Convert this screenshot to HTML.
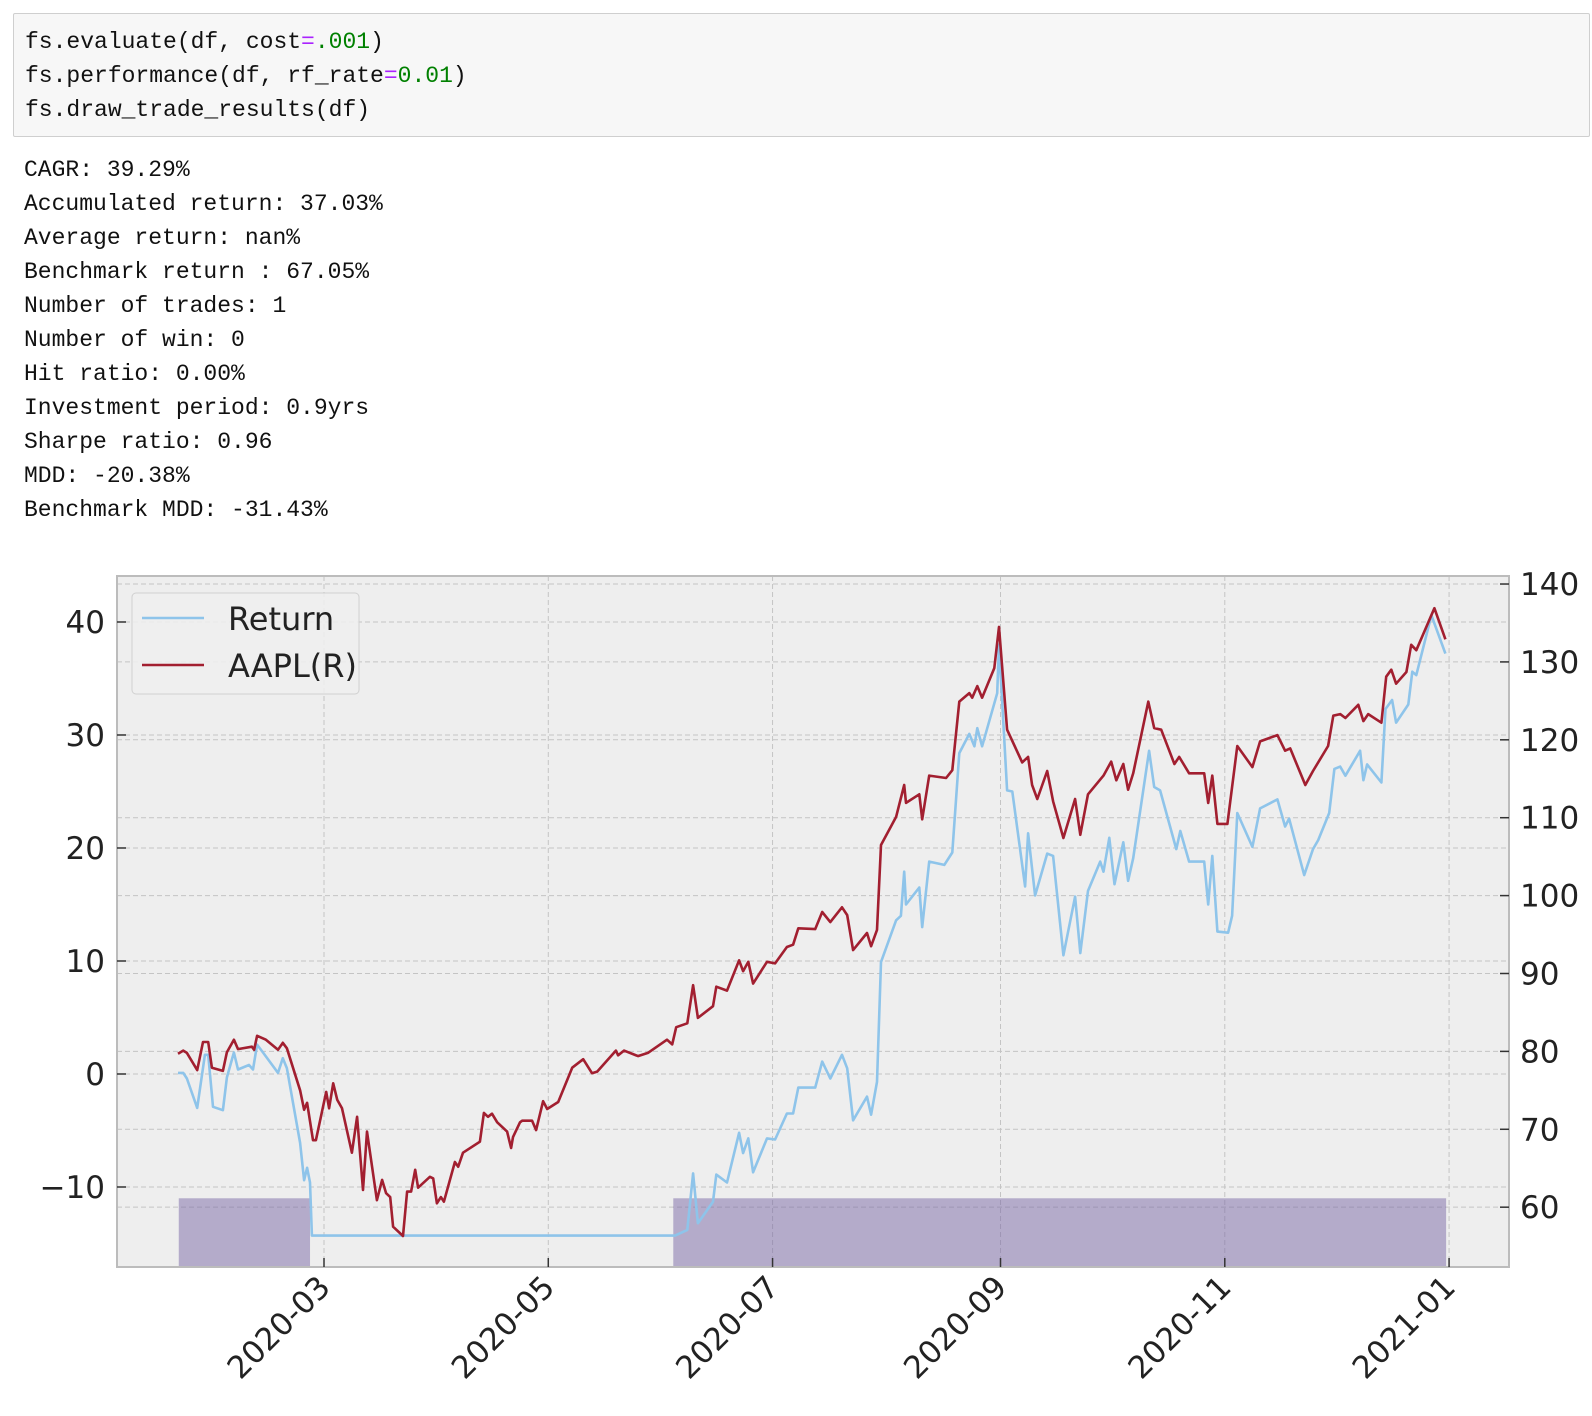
<!DOCTYPE html>
<html><head><meta charset="utf-8"><style>
html,body{margin:0;padding:0;background:#fff;width:1592px;height:1416px;overflow:hidden}
.code{position:absolute;left:13px;top:13px;width:1577px;height:124px;background:#f7f7f7;border:1px solid #cfcfcf;border-radius:2px;box-sizing:border-box}
.mono{font-family:"Liberation Mono","DejaVu Sans Mono",monospace;font-size:23px;color:#111;white-space:pre}
.ln{position:absolute;left:11px;line-height:34px}
.eq{color:#aa22ff}.num{color:#008000}
.out{position:absolute;left:24px;top:153px;line-height:34px}
svg{position:absolute;left:0;top:0}
</style></head><body>
<div class="code">
<div class="ln mono" style="top:11px">fs.evaluate(df, cost<span class="eq">=</span><span class="num">.001</span>)</div>
<div class="ln mono" style="top:45px">fs.performance(df, rf_rate<span class="eq">=</span><span class="num">0.01</span>)</div>
<div class="ln mono" style="top:79px">fs.draw_trade_results(df)</div>
</div>
<div class="out mono">CAGR: 39.29%
Accumulated return: 37.03%
Average return: nan%
Benchmark return : 67.05%
Number of trades: 1
Number of win: 0
Hit ratio: 0.00%
Investment period: 0.9yrs
Sharpe ratio: 0.96
MDD: -20.38%
Benchmark MDD: -31.43%</div>
<svg id="chart" width="1592" height="1416"></svg>
<script>
// days since 2020-01-01
const aaplDays=[20.3,21.7,22.7,25.5,27.1,28.5,29.5,32.5,33.6,35.5,36.6,40.4,41,41.8,44.2,47.5,48.8,49.9,53.5,54.6,55.4,57,57.8,60.6,61.4,62.5,63.6,64.9,67.6,69,70.6,71.7,74.4,75.8,76.9,78,78.8,81.5,82.6,83.7,84.8,85.6,88.8,89.7,90.7,91.8,92.6,95.6,96.5,97.8,102.4,103.5,104.6,105.7,107.1,109.8,110.9,111.4,113.3,113.9,116.6,117.7,119.6,120.7,123.7,127.5,130.5,132.9,134.3,137.3,139.4,140,141.6,145.4,148.1,153.3,154.7,155.8,158.8,160.4,161.7,165.8,166.7,169.6,172.9,174,175.4,176.7,180.5,182.7,185.9,187.6,189,193.6,195.5,197.7,200.9,202.3,203.9,207.7,208.8,210.4,211.5,215.6,217.8,218.3,221.9,222.7,224.6,229.2,230.9,232.8,235.5,236.3,237.7,239,242.3,243.6,245.8,249.9,251.5,252.6,254,256.7,258.3,261.1,264.3,265.7,267.8,272,274.1,275.5,277.4,278.7,280.1,284.2,285.8,287.7,291.3,292.6,295.3,299.4,300.5,301.6,303,305.7,308.4,312.5,314.6,319.3,321.4,322.8,326.9,329,333.1,334.5,336.4,337.8,341.3,342.7,344,347.6,348.9,350.3,351.6,354.4,355.7,357.1,362,365];
const aaplPrice=[79.7,80.1,79.8,77.6,81.2,81.2,77.9,77.5,79.9,81.5,80.3,80.6,80.2,82,81.5,80.2,81.1,80.4,75,72.5,73.4,68.6,68.6,74.8,72.7,75.9,73.8,72.7,67,71.6,62.2,69.7,60.9,63.5,61.8,61.3,57.5,56.3,62,62,64.8,62.5,63.9,63.7,60.5,61.3,60.7,65.8,65.2,67,68.4,72.1,71.6,72,70.9,69.7,67.6,69,70.9,71.1,71.1,69.9,73.6,72.6,73.5,77.9,79,77.2,77.4,79,80.1,79.5,80.1,79.4,79.8,81.5,80.9,83.1,83.6,88.5,84.3,85.8,88.3,87.8,91.7,90.3,91.5,88.7,91.5,91.3,93.4,93.7,95.8,95.7,97.9,96.6,98.5,97.5,93,95.2,93.5,95.6,106.5,110.1,114.2,111.9,113,109.8,115.4,115.1,116.1,124.9,126,125.4,126.9,125.4,129.2,134.5,121.3,117.1,117.8,114.2,112.4,116,112.1,107.4,112.4,107.8,113,115.4,117.2,114.8,116.9,113.6,115.7,124.9,121.5,121.3,116.9,117.8,115.7,115.7,111.9,115.4,109.2,109.2,119.2,116.5,119.8,120.6,118.6,118.9,114.2,116,119.2,123.1,123.3,122.8,124.5,122.4,123.3,122.2,128.1,129,127.2,128.7,132.2,131.5,136.9,132.9];
const retDays=[20.3,21.7,22.7,25.5,27.6,28.5,29.8,32.5,33.6,35.5,36.6,39.6,40.7,41.8,43.4,47.5,48.8,49.9,53.5,54.6,55.4,56.2,56.7,155.5,158.8,160.4,161.7,165.8,166.7,169.6,172.9,174,175.4,176.7,180.5,182.7,185.9,187.6,189,193.6,195.5,197.7,200.9,202.3,203.9,207.7,208.8,210.4,211.5,215.6,216.9,217.8,218.3,221.9,222.7,224.6,228.7,230.9,232.8,235.5,236.9,237.7,239,243.1,243.6,245.8,247.2,250.7,251.5,253.4,256.7,258.3,261.1,264.3,265.7,267.8,271.1,272,273.6,275,277.4,278.7,280.1,284.4,285.8,287.4,291.8,292.9,295.3,299.4,300.5,301.6,303,305.9,307,308.4,312.5,314.6,319.3,321.4,322.5,326.6,329,330.4,333.4,334.8,336.4,337.8,341.8,342.7,343.7,347.6,348.7,350.5,351.6,354.9,356,357.1,361.2,365];
const retValues=[0.1,0.1,-0.4,-3,1.7,1.7,-2.9,-3.2,-0.3,1.9,0.4,0.8,0.4,2.6,1.9,0.1,1.4,0.5,-6.1,-9.4,-8.3,-9.6,-14.3,-14.3,-13.8,-8.8,-13.2,-11.3,-8.9,-9.6,-5.2,-7,-5.7,-8.7,-5.7,-5.8,-3.5,-3.5,-1.2,-1.2,1.1,-0.4,1.7,0.5,-4.1,-2,-3.6,-0.7,9.9,13.6,14,17.9,15,16.5,13,18.8,18.5,19.6,28.4,30.1,29,30.6,29,33.7,38,25.1,25,16.6,21.3,15.8,19.5,19.3,10.5,15.7,10.7,16.2,18.8,17.9,20.9,16.8,20.5,17.1,19.1,28.6,25.4,25.1,19.9,21.5,18.8,18.8,15,19.3,12.6,12.5,14,23.1,20.1,23.5,24.3,21.9,22.6,17.6,19.9,20.7,23.1,27,27.2,26.4,28.6,26,27.4,25.8,32.3,33.1,31.1,32.7,35.6,35.3,40.6,37.2];
const holdStart=[20.5,155.0];
const holdEnd=[56.2,365.2];
const holdLevel=-11.0;
const leftTicks=[-10,0,10,20,30,40];
const rightTicks=[60,70,80,90,100,110,120,130,140];
const xTickDays=[60,121,182,244,305,366];
const xTickLabels=["2020-03","2020-05","2020-07","2020-09","2020-11","2021-01"];

const L=117,R=1509,T=576,B=1267;
const xDom=[3.7,382.3], yL=[-17.08,44.07], yR=[52.32,141.03];
const X=d=>L+(d-xDom[0])/(xDom[1]-xDom[0])*(R-L);
const YL=v=>B-(v-yL[0])/(yL[1]-yL[0])*(B-T);
const YR=v=>B-(v-yR[0])/(yR[1]-yR[0])*(B-T);
const NS='http://www.w3.org/2000/svg';
const svg=document.getElementById('chart');
function mk(tag,attrs,parent){const e=document.createElementNS(NS,tag);for(const k in attrs)e.setAttribute(k,attrs[k]);(parent||svg).appendChild(e);return e;}
const FONT='"DejaVu Sans","Liberation Sans",sans-serif';

const bg=mk('rect',{x:L,y:T,width:R-L,height:B-T,fill:'#eeeeee'});



// gridlines
leftTicks.forEach(v=>{const g=mk('line',{x1:L,x2:R,y1:YL(v),y2:YL(v),stroke:'#c4c4c4','stroke-width':1,'stroke-dasharray':'5,3'});

});
rightTicks.forEach(v=>{const g=mk('line',{x1:L,x2:R,y1:YR(v),y2:YR(v),stroke:'#c4c4c4','stroke-width':1,'stroke-dasharray':'5,3'});

});
xTickDays.forEach(d=>{const g=mk('line',{x1:X(d),x2:X(d),y1:T,y2:B,stroke:'#c4c4c4','stroke-width':1,'stroke-dasharray':'5,3'});

});

// holding periods
holdStart.forEach((s,i)=>{const r=mk('rect',{x:X(s),y:YL(holdLevel),width:X(holdEnd[i])-X(s),height:B-YL(holdLevel),fill:'#7a68a6','fill-opacity':0.5});

});

// lines
const rp=retDays.map((d,i)=>X(d).toFixed(1)+','+YL(retValues[i]).toFixed(1)).join(' ');
const rl=mk('polyline',{points:rp,fill:'none',stroke:'#8ec4ea','stroke-width':2.6,'stroke-linejoin':'round'});


const ap=aaplDays.map((d,i)=>X(d).toFixed(1)+','+YR(aaplPrice[i]).toFixed(1)).join(' ');
const al=mk('polyline',{points:ap,fill:'none',stroke:'#a21f30','stroke-width':2.6,'stroke-linejoin':'round'});



// frame
const fr=mk('rect',{x:L,y:T,width:R-L,height:B-T,fill:'none',stroke:'#bcbcbc','stroke-width':2});



// ticks + labels
leftTicks.forEach(v=>{mk('line',{x1:L,x2:L+9,y1:YL(v),y2:YL(v),stroke:'#333','stroke-width':1.5});
const t=mk('text',{x:L-12,y:YL(v)+11,'text-anchor':'end','font-size':31,'font-family':FONT,fill:'#222'});
t.textContent=(v<0?'\u2212'+(-v):v);

});
rightTicks.forEach(v=>{mk('line',{x1:R-9,x2:R,y1:YR(v),y2:YR(v),stroke:'#333','stroke-width':1.5});
const t=mk('text',{x:R+11,y:YR(v)+11,'font-size':31,'font-family':FONT,fill:'#222'});
t.textContent=v;

});
xTickDays.forEach((d,i)=>{const x=X(d);mk('line',{x1:x,x2:x,y1:B-9,y2:B,stroke:'#333','stroke-width':1.5});
const t=mk('text',{x:x+8,y:B+22,'text-anchor':'end','font-size':31,'font-family':FONT,fill:'#222',transform:`rotate(-45 ${x+8} ${B+22})`});
t.textContent=xTickLabels[i];

});

// legend
const lg=mk('g',{});


mk('rect',{x:132,y:593,width:227,height:101,rx:4,fill:'#eeeeee','fill-opacity':0.9,stroke:'#d0d0d0','stroke-width':1},lg);
const items=[['Return','#8ec4ea',618],['AAPL(R)','#a21f30',665]];
items.forEach(it=>{const e=mk('g',{},lg);


mk('line',{x1:142,x2:204,y1:it[2],y2:it[2],stroke:it[1],'stroke-width':2.6},e);
const t=mk('text',{x:228,y:it[2]+12,'font-size':32,'font-family':FONT,fill:'#222'},e);t.textContent=it[0];});
</script>
</body></html>
